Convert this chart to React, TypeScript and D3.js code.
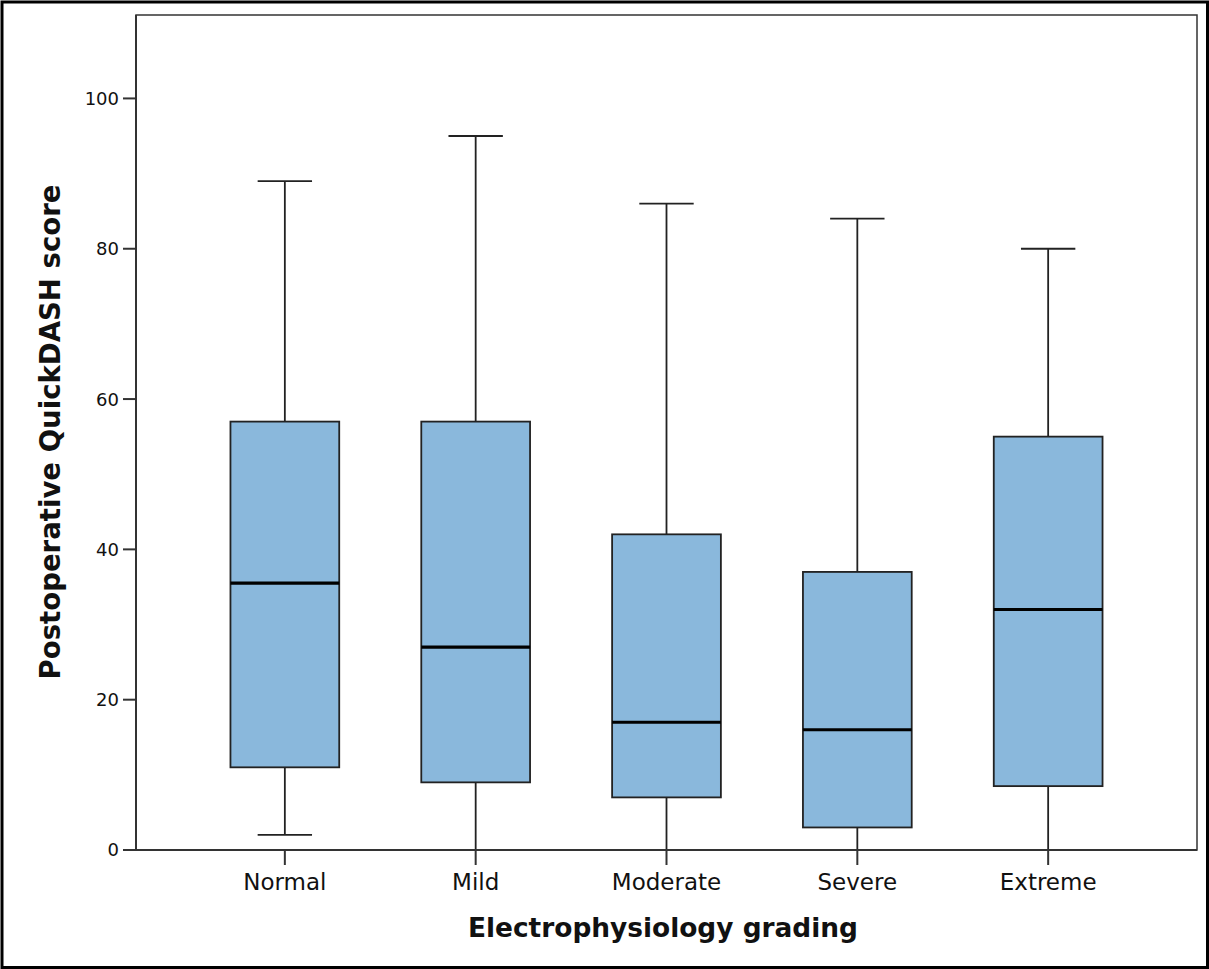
import React from "react";
import * as d3 from "d3";

const categories = ["Normal", "Mild", "Moderate", "Severe", "Extreme"];
const whiskerLow = [2, 0, 0, 0, 0];
const q1 = [11, 9, 7, 3, 8.5];
const median = [35.5, 27, 17, 16, 32];
const q3 = [57, 57, 42, 37, 55];
const whiskerHigh = [89, 95, 86, 84, 80];
const yTicks = [0, 20, 40, 60, 80, 100];

const W = 1209;
const H = 969;
const L = 136, R = 1197, T = 15, B = 850;

export default function App() {
  const y = d3.scaleLinear().domain([0, 111.1]).range([B, T]);
  const x = d3.scalePoint<string>().domain(categories).range([L, R]).padding(0.78);
  const step = x.step();
  const boxW = step * 0.57;
  const capW = boxW / 2;
  const font = "'DejaVu Sans', sans-serif";

  return (
    <svg width={W} height={H} style={{ position: "absolute", left: 0, top: 0, background: "#fff" }}>
      <rect x={0} y={0} width={W} height={H} fill="#fff" />
      {/* outer frame */}
      <rect x={2} y={2} width={W - 3.5} height={H - 3.5} fill="none" stroke="#000" strokeWidth={3} />
      {/* plot frame */}
      <rect x={L} y={T} width={R - L} height={B - T} fill="none" stroke="#333" strokeWidth={1.5} />
      {/* boxes */}
      {categories.map((c, i) => {
        const cx = x(c)!;
        return (
          <g key={c}>
            <line x1={cx} x2={cx} y1={y(whiskerHigh[i])} y2={y(q3[i])} stroke="#222" strokeWidth={1.8} />
            <line x1={cx} x2={cx} y1={y(q1[i])} y2={y(whiskerLow[i])} stroke="#222" strokeWidth={1.8} />
            <line x1={cx - capW / 2} x2={cx + capW / 2} y1={y(whiskerHigh[i])} y2={y(whiskerHigh[i])} stroke="#222" strokeWidth={1.8} />
            <line x1={cx - capW / 2} x2={cx + capW / 2} y1={y(whiskerLow[i])} y2={y(whiskerLow[i])} stroke="#222" strokeWidth={1.8} />
            <rect x={cx - boxW / 2} y={y(q3[i])} width={boxW} height={y(q1[i]) - y(q3[i])} fill="#8ab8dc" stroke="#222" strokeWidth={1.8} />
            <line x1={cx - boxW / 2} x2={cx + boxW / 2} y1={y(median[i])} y2={y(median[i])} stroke="#000" strokeWidth={3.2} />
          </g>
        );
      })}
      {/* axes */}
      <line x1={L} x2={L} y1={T} y2={B} stroke="#333" strokeWidth={2} />
      <line x1={L} x2={R} y1={B} y2={B} stroke="#333" strokeWidth={2} />
      {yTicks.map((t) => (
        <g key={t}>
          <line x1={L - 13} x2={L} y1={y(t)} y2={y(t)} stroke="#333" strokeWidth={2} />
          <text x={L - 17} y={y(t)} dy="0.36em" textAnchor="end" fontFamily={font} fontSize={18} fill="#111">{t}</text>
        </g>
      ))}
      {categories.map((c) => (
        <g key={c}>
          <line x1={x(c)!} x2={x(c)!} y1={B} y2={B + 15} stroke="#333" strokeWidth={2} />
          <text x={x(c)!} y={890} textAnchor="middle" fontFamily={font} fontSize={23} fill="#111">{c}</text>
        </g>
      ))}
      <text x={663} y={937} textAnchor="middle" fontFamily={font} fontWeight="bold" fontSize={26} textLength={390} lengthAdjust="spacingAndGlyphs" fill="#111">Electrophysiology grading</text>
      <text transform={`translate(60, 432) rotate(-90)`} textAnchor="middle" fontFamily={font} fontWeight="bold" fontSize={29} textLength={495} lengthAdjust="spacingAndGlyphs" fill="#111">Postoperative QuickDASH score</text>
    </svg>
  );
}
